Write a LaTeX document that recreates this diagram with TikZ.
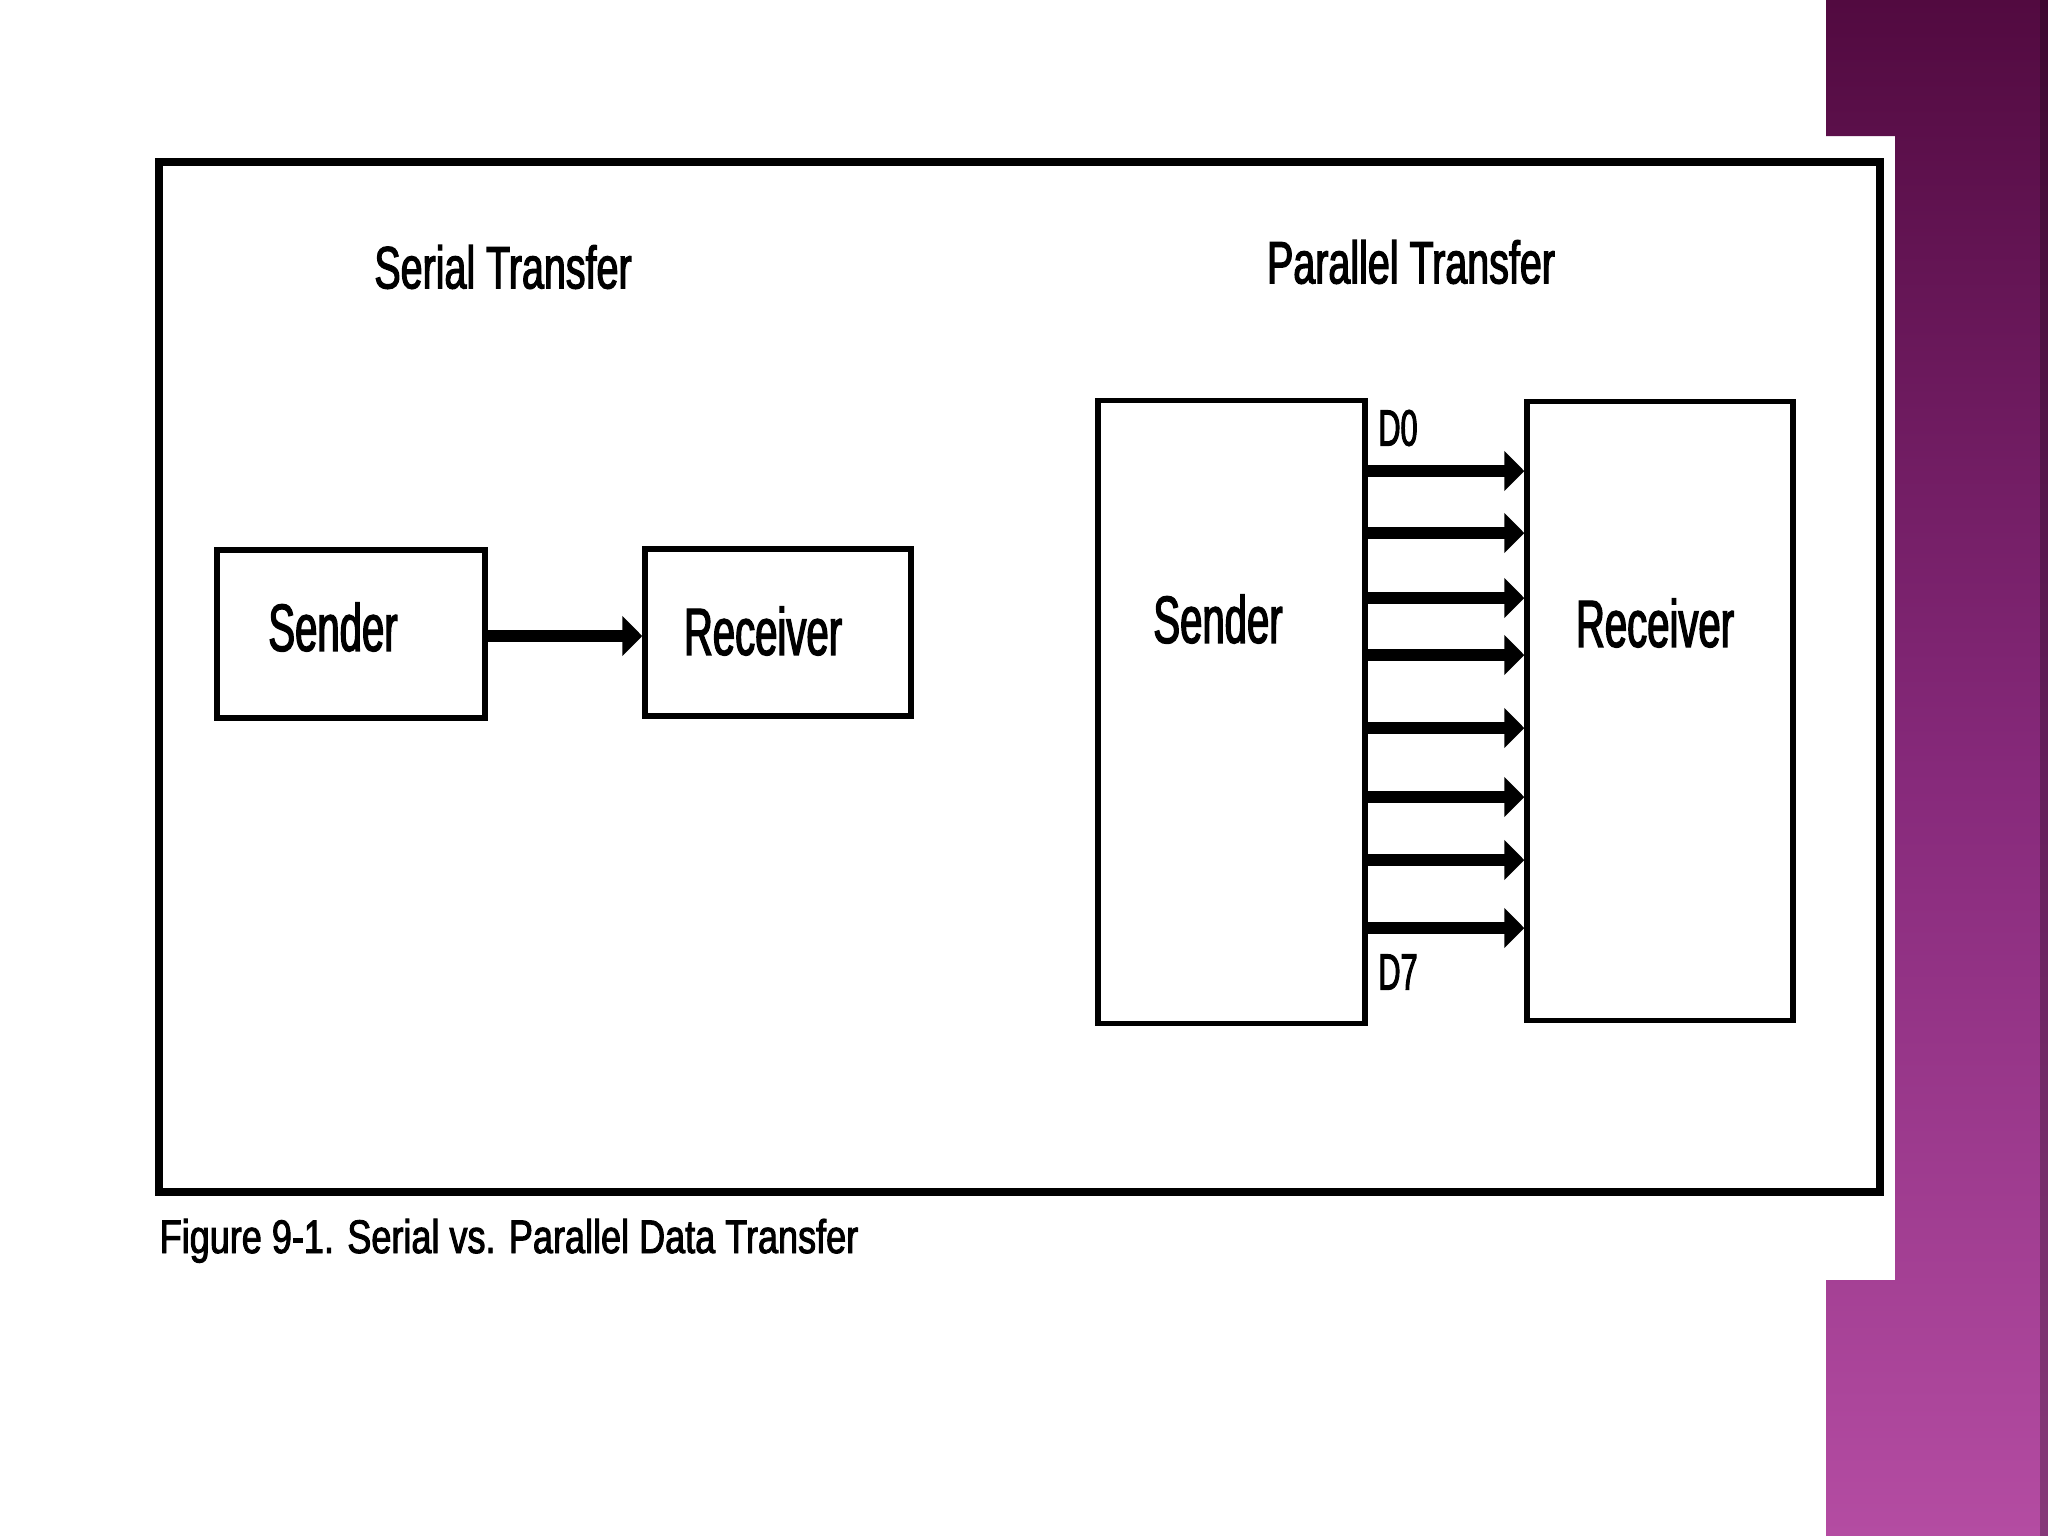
\documentclass[tikz,border=0pt]{standalone}
\usepackage{fontspec}
\setmainfont{Liberation Sans}
\newfontfamily\boxfont[FakeStretch=0.6,FakeBold=2]{Liberation Sans}
\newfontfamily\titlefont[FakeStretch=0.66,FakeBold=2]{Liberation Sans}
\newfontfamily\capfont[FakeStretch=0.765,FakeBold=2]{Liberation Sans}
\usetikzlibrary{arrows.meta}
\definecolor{purpletop}{HTML}{520A40}
\definecolor{purplemid}{HTML}{86297A}
\definecolor{purplebot}{HTML}{B44CA2}
\tikzset{
  blockbox/.style={draw=black, line width=1.5pt, fill=white, inner sep=0pt},
  boxlabel/.style={inner sep=0pt, font=\boxfont\fontsize{19pt}{22pt}\selectfont},
  titlelabel/.style={inner sep=0pt, font=\titlefont\fontsize{17pt}{20pt}\selectfont},
  dlabel/.style={inner sep=0pt, font=\boxfont\fontsize{14.5pt}{16pt}\selectfont},
  dataarrow/.style={line width=3.6pt, -{Triangle[length=0.2cm,width=0.39cm]}}
}
\begin{document}
\begin{tikzpicture}[x=0.01cm,y=-0.01cm]
\useasboundingbox (0,0) rectangle (2048,1536);
\fill[white] (0,0) rectangle (2048,1536);
% purple side strip
\shade[top color=purpletop, bottom color=purplebot, middle color=purplemid]
  (1826,0) -- (2048,0) -- (2048,1536) -- (1826,1536) -- (1826,1280) -- (1895,1280) -- (1895,136) -- (1826,136) -- cycle;
\fill[black, opacity=0.25] (2040,0) rectangle (2048,1536);
% outer frame
\node[draw=black, line width=2.3pt, minimum width=1721*0.01cm, minimum height=1030*0.01cm, inner sep=0pt] (frame) at (1019.5,677) {};
% titles
\node[titlelabel] (stitle) at (503,267) {Serial Transfer};
\node[titlelabel] (ptitle) at (1411,262) {Parallel Transfer};
% serial
\node[blockbox, minimum width=2.68cm, minimum height=1.68cm] (ssend) at (351,634) {};
\node[blockbox, minimum width=2.66cm, minimum height=1.67cm] (srecv) at (778,632.5) {};
\node[boxlabel] (ssendt) at (333,627) {Sender};
\node[boxlabel] (srecvt) at (763,631) {Receiver};
\draw[dataarrow] (ssend.east |- 0,636) -- (srecv.west |- 0,636);
% parallel
\node[blockbox, minimum width=2.67cm, minimum height=6.22cm] (psend) at (1231.5,712) {};
\node[blockbox, minimum width=2.66cm, minimum height=6.19cm] (precv) at (1660,711) {};
\node[boxlabel] (psendt) at (1218,619) {Sender};
\node[boxlabel] (precvt) at (1655,623) {Receiver};
\foreach \y in {471,533,598,655,728,797,860,928}{
  \draw[dataarrow] (psend.east |- 0,\y) -- (precv.west |- 0,\y);
}
\node[dlabel] (d0) at (1398,428) {D0};
\node[dlabel] (d7) at (1398,972) {D7};
% caption
\node[inner sep=0pt, anchor=base west, font=\capfont\fontsize{13.4pt}{16pt}\selectfont] (cap) at (159,1253) {Figure 9-1. Serial vs. Parallel Data Transfer};
\end{tikzpicture}
\end{document}
